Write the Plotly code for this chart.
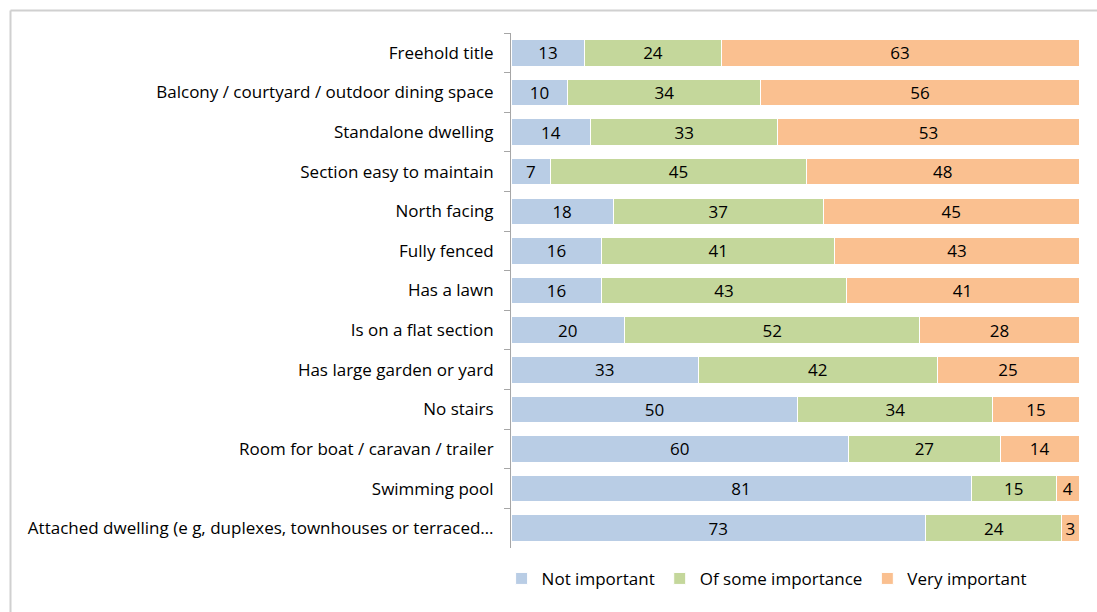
import plotly.graph_objects as go

categories = [
    "Freehold title",
    "Balcony / courtyard / outdoor dining space",
    "Standalone dwelling",
    "Section easy to maintain",
    "North facing",
    "Fully fenced",
    "Has a lawn",
    "Is on a flat section",
    "Has large garden or yard",
    "No stairs",
    "Room for boat / caravan / trailer",
    "Swimming pool",
    "Attached dwelling (e g, duplexes, townhouses or terraced…",
]
not_important = [13, 10, 14, 7, 18, 16, 16, 20, 33, 50, 60, 81, 73]
some_importance = [24, 34, 33, 45, 37, 41, 43, 52, 42, 34, 27, 15, 24]
very_important = [63, 56, 53, 48, 45, 43, 41, 28, 25, 15, 14, 4, 3]

series = [
    ("Not important", not_important, "#b9cde5"),
    ("Of some importance", some_importance, "#c4d79b"),
    ("Very important", very_important, "#fac090"),
]

FONT = "Open Sans"
FS = 17

W, H = 1097, 612
ML, MR, MT, MB = 511, 18, 33, 64
PW, PH = W - ML - MR, H - MT - MB


def px_x(px):
    return (px - ML) / PW


def px_y(py):
    return (H - MB - py) / PH


fig = go.Figure()
for name, vals, color in series:
    fig.add_trace(go.Bar(
        y=categories,
        x=vals,
        name=name,
        orientation="h",
        marker=dict(color=color, line=dict(color="white", width=1)),
        text=vals,
        texttemplate="%{text}",
        textposition="inside",
        insidetextanchor="middle",
        constraintext="none",
        textangle=0,
        textfont=dict(family=FONT, size=FS, color="black"),
        hoverinfo="skip",
    ))

fig.update_layout(
    barmode="stack",
    barnorm="percent",
    bargap=0.33,
    width=W,
    height=H,
    autosize=False,
    margin=dict(l=ML, r=MR, t=MT, b=MB, autoexpand=False),
    paper_bgcolor="white",
    plot_bgcolor="white",
    font=dict(family=FONT, size=FS, color="black"),
    legend=dict(
        orientation="h",
        x=0.45, xanchor="center",
        y=-0.025, yanchor="top",
        font=dict(family=FONT, size=FS, color="black"),
        itemwidth=30,
        traceorder="normal",
    ),
    xaxis=dict(range=[0, 100], visible=False, fixedrange=True),
    yaxis=dict(
        autorange="reversed",
        type="category",
        showline=True,
        linecolor="#a6a6a6",
        linewidth=1,
        ticks="outside",
        ticklen=6,
        tickcolor="#a6a6a6",
        tickson="boundaries",
        showgrid=False,
        automargin=False,
        tickfont=dict(family=FONT, size=FS, color="black"),
        ticklabelstandoff=13,
    ),
    shapes=[
        # chart frame: left and top edges
        dict(type="line", xref="paper", yref="paper",
             x0=px_x(10.5), x1=px_x(10.5), y0=px_y(10.5), y1=px_y(H + 5),
             line=dict(color="#d0d0d0", width=2)),
        dict(type="line", xref="paper", yref="paper",
             x0=px_x(10.5), x1=px_x(W + 5), y0=px_y(10.5), y1=px_y(10.5),
             line=dict(color="#d0d0d0", width=2)),
    ],
)

fig.write_html("out.html")
